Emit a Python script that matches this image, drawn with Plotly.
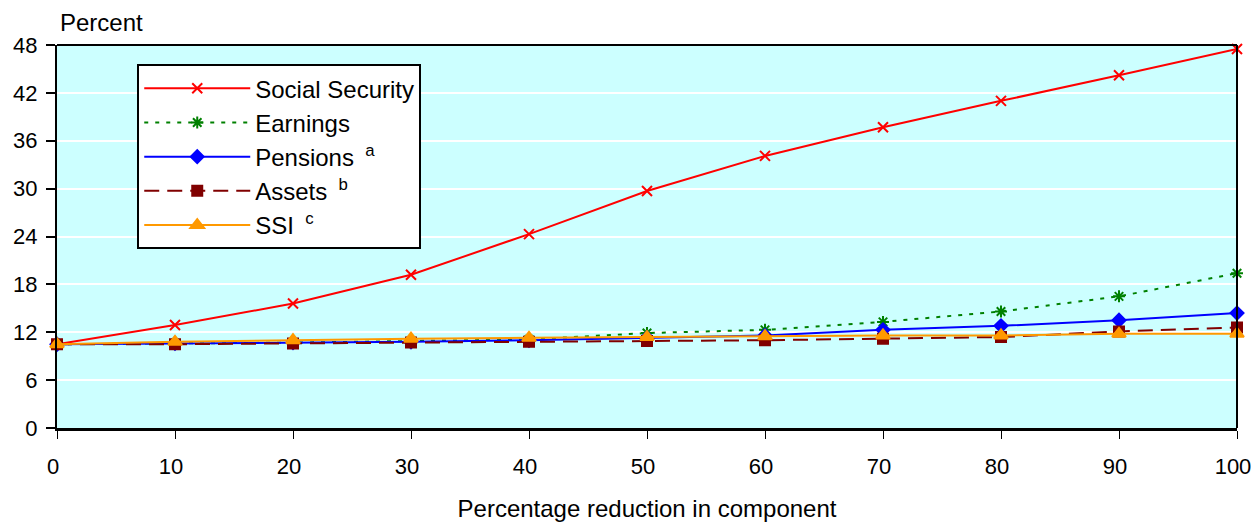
import plotly.graph_objects as go

x_vals = [0, 10, 20, 30, 40, 50, 60, 70, 80, 90, 100]
social_security = [10.5, 12.9, 15.6, 19.2, 24.3, 29.7, 34.1, 37.7, 41.0, 44.2, 47.5]
earnings = [10.5, 10.6, 10.7, 10.9, 11.1, 11.9, 12.3, 13.3, 14.6, 16.5, 19.4]
pensions = [10.5, 10.6, 10.7, 10.8, 11.0, 11.3, 11.6, 12.3, 12.8, 13.5, 14.4]
assets = [10.5, 10.5, 10.6, 10.7, 10.8, 10.9, 11.0, 11.2, 11.4, 12.1, 12.6]
ssi = [10.5, 10.8, 11.0, 11.2, 11.3, 11.4, 11.5, 11.6, 11.6, 11.8, 11.8]
y_ticks = [0, 6, 12, 18, 24, 30, 36, 42, 48]
x_ticks = [0, 10, 20, 30, 40, 50, 60, 70, 80, 90, 100]

FONT = "Liberation Sans, Arial, sans-serif"

series = [
    ("Social Security", social_security, "#FF0000", "solid", "x-thin-open", 10),
    ("Earnings", earnings, "#008000", "4px,7px", "asterisk-open", 10),
    ("Pensions <sup> a</sup>", pensions, "#0000FF", "solid", "diamond", 10),
    ("Assets <sup> b</sup>", assets, "#800000", "15px,8px", "square", 10),
    ("SSI <sup> c</sup>", ssi, "#FF9900", "solid", "triangle-up", 12),
]

fig = go.Figure()
for i, (name, vals, color, dash, sym, size) in enumerate(series):
    fig.add_trace(go.Scatter(
        x=x_vals, y=vals, name=name, mode="lines+markers",
        line=dict(color=color, width=2, dash=dash),
        marker=dict(symbol=sym, size=size, color=color,
                    line=dict(color=color, width=2)),
        cliponaxis=False,
    ))

fig.update_layout(
    width=1251, height=514,
    margin=dict(l=49, r=22, t=37, b=94, autoexpand=False),
    paper_bgcolor="white",
    plot_bgcolor="#CCFFFF",
    font=dict(family=FONT, size=22, color="black"),
    showlegend=True,
    legend=dict(
        x=0.068, y=0.95, xanchor="left", yanchor="top",
        bgcolor="white", bordercolor="black", borderwidth=2,
        font=dict(family=FONT, size=24, color="black"),
        itemwidth=106, tracegroupgap=0,
    ),
    xaxis=dict(
        automargin=False,
        range=[0, 100], tickvals=x_ticks, showgrid=False,
        showline=True, linecolor="black", linewidth=3, mirror=False,
        ticks="outside", ticklen=8, tickcolor="black", tickwidth=1,
        ticklabelstandoff=9, ticklabelshift=-4, zeroline=False,
        tickfont=dict(family=FONT, size=22),
        title=dict(text="Percentage reduction in component", standoff=26,
                   font=dict(family=FONT, size=24)),
    ),
    yaxis=dict(
        automargin=False,
        range=[0, 48], tickvals=y_ticks, showgrid=True, gridcolor="white",
        gridwidth=2, showline=True, linecolor="black", linewidth=2,
        ticks="outside", ticklen=9, tickcolor="black", tickwidth=2,
        ticklabelstandoff=4, zeroline=False,
        tickfont=dict(family=FONT, size=22),
    ),
    annotations=[dict(
        text="Percent", xref="paper", yref="paper", x=0.0, y=1.0,
        xshift=1, yshift=23, xanchor="left", yanchor="middle", showarrow=False,
        font=dict(family=FONT, size=24),
    )],
    shapes=[
        dict(type="line", xref="paper", yref="paper", x0=1, x1=1, y0=0, y1=1,
             line=dict(color="black", width=2)),
        dict(type="line", xref="paper", yref="paper", x0=0, x1=1, y0=1, y1=1,
             line=dict(color="black", width=2)),
    ],
)

fig.write_html("out.html")
